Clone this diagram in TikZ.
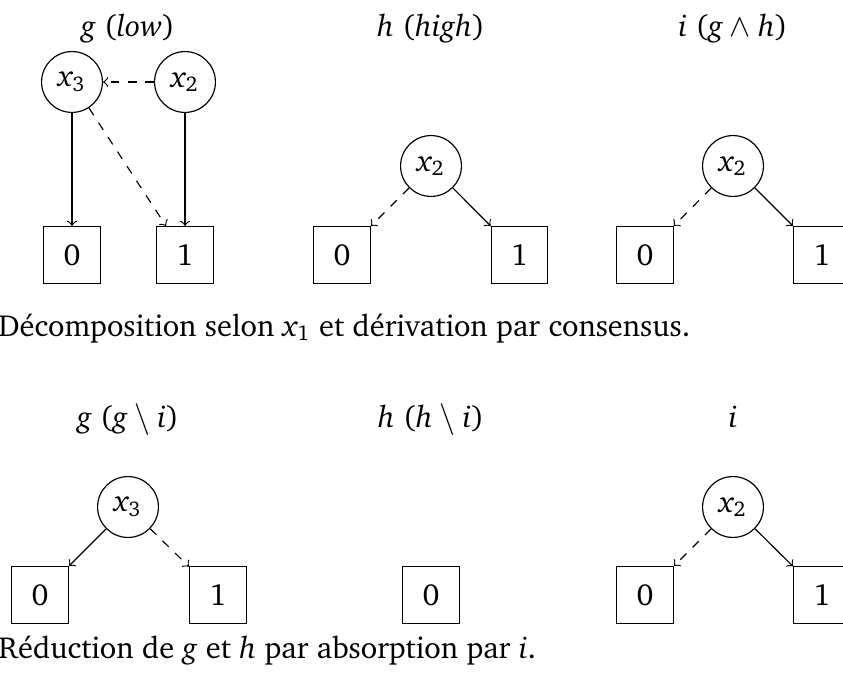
\documentclass[tikz,border=0pt]{standalone}
\usepackage[T1]{fontenc}
\usepackage{charter}
\DeclareSymbolFont{chit}{T1}{bch}{m}{it}
\DeclareSymbolFont{chup}{T1}{bch}{m}{n}
\DeclareMathSymbol{g}{\mathalpha}{chit}{`g}
\DeclareMathSymbol{h}{\mathalpha}{chit}{`h}
\DeclareMathSymbol{i}{\mathalpha}{chit}{`i}
\DeclareMathSymbol{l}{\mathalpha}{chit}{`l}
\DeclareMathSymbol{o}{\mathalpha}{chit}{`o}
\DeclareMathSymbol{w}{\mathalpha}{chit}{`w}
\DeclareMathSymbol{x}{\mathalpha}{chit}{`x}
\DeclareMathSymbol{1}{\mathalpha}{chup}{`1}
\DeclareMathSymbol{2}{\mathalpha}{chup}{`2}
\DeclareMathSymbol{3}{\mathalpha}{chup}{`3}
\DeclareMathSymbol{(}{\mathopen}{chup}{`(}
\DeclareMathSymbol{)}{\mathclose}{chup}{`)}
\tikzset{
  bddnode/.style={circle,draw,line width=0.4pt,minimum size=21pt,inner sep=0pt},
  leaf/.style={rectangle,draw,line width=0.4pt,minimum size=19.6pt,inner sep=0pt},
  ttl/.style={anchor=base,inner sep=0pt},
  captxt/.style={anchor=base west,inner sep=0pt},
  arr/.style={->,line width=0.4pt},
  darr/.style={->,dashed,line width=0.4pt}
}
\begin{document}
\begin{tikzpicture}[x=0.345pt,y=-0.345pt,font=\fontsize{10.5pt}{12.6pt}\selectfont]
\useasboundingbox (0,0) rectangle (843,679);
% ---- top row ----
\node[ttl] (t1) at (128,37) {$g\ (low)$};
\node[ttl] (t2) at (431,37) {$h\ (high)$};
\node[ttl] (t3) at (733,37) {$i\ (g\wedge h)$};
% group g
\node[bddnode] (ax3) at (72,82) {$x_3$};
\node[bddnode] (ax2) at (185,82) {$x_2$};
\node[leaf] (a0) at (72,255) {0};
\node[leaf] (a1) at (185,255) {1};
\draw[arr] (ax3) -- (a0);
\draw[arr] (ax2) -- (a1);
\draw[darr] (ax2) -- (ax3);
\draw[darr] (ax3) -- (a1);
% group h
\node[bddnode] (bx2) at (431,166) {$x_2$};
\node[leaf] (b0) at (342,255) {0};
\node[leaf] (b1) at (519.5,255) {1};
\draw[darr] (bx2) -- (b0);
\draw[arr] (bx2) -- (b1);
% group i
\node[bddnode] (cx2) at (733,166) {$x_2$};
\node[leaf] (c0) at (645,255) {0};
\node[leaf] (c1) at (822,255) {1};
\draw[darr] (cx2) -- (c0);
\draw[arr] (cx2) -- (c1);
\node[captxt] (cap1) at (-2,336) {Décomposition selon $x_1$ et dérivation par consensus.};
% ---- bottom row ----
\node[ttl] (u1) at (128,427) {$g\ (g\setminus i)$};
\node[ttl] (u2) at (431,427) {$h\ (h\setminus i)$};
\node[ttl] (u3) at (733,427) {$i$};
\node[bddnode] (dx3) at (128,507) {$x_3$};
\node[leaf] (d0) at (40,595) {0};
\node[leaf] (d1) at (218,595) {1};
\draw[arr] (dx3) -- (d0);
\draw[darr] (dx3) -- (d1);
\node[leaf] (e0) at (431,595) {0};
\node[bddnode] (fx2) at (733,507) {$x_2$};
\node[leaf] (f0) at (645,595) {0};
\node[leaf] (f1) at (822,595) {1};
\draw[darr] (fx2) -- (f0);
\draw[arr] (fx2) -- (f1);
\node[captxt] (cap2) at (-2,658) {Réduction de $g$ et $h$ par absorption par $i$.};
\end{tikzpicture}
\end{document}
